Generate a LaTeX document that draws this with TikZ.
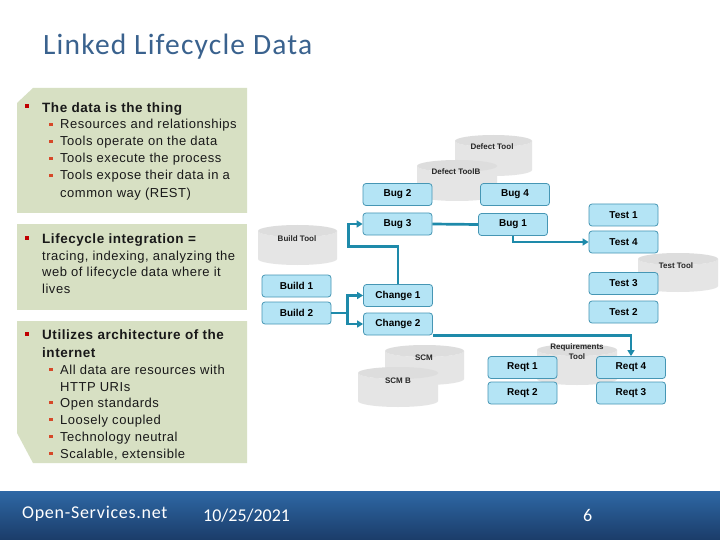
\documentclass[tikz,border=0pt]{standalone}
\usepackage{fontspec}
\setmainfont{Liberation Sans}
\newfontfamily\lsp[LetterSpace=4]{Liberation Sans}
\newfontfamily\calf{Carlito}
\newfontfamily\calsp[LetterSpace=4]{Carlito}
\usetikzlibrary{arrows.meta}
\definecolor{greenbox}{RGB}{215,224,195}
\definecolor{titleblue}{RGB}{58,98,142}
\definecolor{bullred}{RGB}{192,0,0}
\definecolor{subred}{RGB}{214,72,40}
\definecolor{boxfill}{RGB}{180,228,245}
\definecolor{boxline}{RGB}{70,150,180}
\definecolor{linkc}{RGB}{30,138,170}
\definecolor{footA}{RGB}{46,104,165}
\definecolor{footB}{RGB}{27,60,105}
\definecolor{txtc}{RGB}{25,25,25}
\newcommand\drawcyl[4]{%
  \pgfmathsetmacro\cxc{(#1+#2)/2}%
  \pgfmathsetmacro\crx{(#2-#1)/2}%
  \fill[cylbody] (#1,#3) -- (#1,#4) arc[start angle=180,end angle=0,x radius=\crx,y radius=6]
     -- (#2,#3) arc[start angle=0,end angle=180,x radius=\crx,y radius=6] -- cycle;
  \fill[cyltop] (\cxc,#3) ellipse[x radius=\crx,y radius=6];
}
\begin{document}
\begin{tikzpicture}[x=1pt,y=-1pt,
  hdr/.style={anchor=base west,inner sep=0,font=\lsp\bfseries\fontsize{13.5}{16}\selectfont,text=txtc},
  subt/.style={anchor=base west,inner sep=0,font=\lsp\fontsize{13}{16}\selectfont,text=txtc},
  bigbul/.style={rectangle,fill=bullred,minimum width=4.2,minimum height=4.2,inner sep=0,outer sep=0},
  smbul/.style={rectangle,fill=subred,minimum width=3.2,minimum height=3.2,inner sep=0,outer sep=0},
  item/.style={rectangle,rounded corners=3,draw=boxline,line width=0.8,fill=boxfill,
    minimum width=69,minimum height=22,inner sep=0,font=\bfseries\fontsize{10}{12}\selectfont},
  cyllab/.style={inner sep=0,font=\bfseries\fontsize{8}{9.5}\selectfont,text=black!85},
  cylbody/.style={fill=gray!20},
  cyltop/.style={fill=gray!27},
  link/.style={draw=linkc,line width=2.7},
  arr/.style={-{Triangle[length=6,width=7]}}
]
\useasboundingbox (0,0) rectangle (720,540);
\fill[white] (0,0) rectangle (720,540);

% title
\node[anchor=base west,inner sep=0,font=\calsp\fontsize{29.5}{32}\selectfont,text=titleblue] (title) at (43,54.5) {Linked Lifecycle Data};

% green boxes
\fill[greenbox] (17,103) -- (33,88) -- (247,88) -- (247,213) -- (17,213) -- cycle;
\fill[greenbox] (17,224) rectangle (247,310);
\fill[greenbox] (17,321) -- (247,321) -- (247,463) -- (33,463) -- (17,433) -- cycle;

% box 1 text
\node[bigbul] (b1) at (27,106) {};
\node[hdr] (h1) at (42,112.5) {The data is the thing};
\node[smbul] (s11) at (51,124.5) {};
\node[subt] (t11) at (60,129) {Resources and relationships};
\node[smbul] (s12) at (51,141.5) {};
\node[subt] (t12) at (60,146) {Tools operate on the data};
\node[smbul] (s13) at (51,158.5) {};
\node[subt] (t13) at (60,163) {Tools execute the process};
\node[smbul] (s14) at (51,175.5) {};
\node[subt] (t14) at (60,180) {Tools expose their data in a};
\node[subt] (t15) at (60,197) {common way (REST)};

% box 2 text
\node[bigbul] (b2) at (27,238) {};
\node[hdr] (h2) at (42,243.5) {Lifecycle integration =};
\node[subt] (t21) at (42,260) {tracing, indexing, analyzing the};
\node[subt] (t22) at (42,276.5) {web of lifecycle data where it};
\node[subt] (t23) at (42,293) {lives};

% box 3 text
\node[bigbul] (b3) at (27,334) {};
\node[hdr] (h3) at (42,339.5) {Utilizes architecture of the};
\node[hdr] (h3b) at (42,357) {internet};
\node[smbul] (s31) at (51,369.5) {};
\node[subt] (t31) at (60,374) {All data are resources with};
\node[subt] (t32) at (60,391) {HTTP URIs};
\node[smbul] (s33) at (51,402.5) {};
\node[subt] (t33) at (60,407) {Open standards};
\node[smbul] (s34) at (51,419.5) {};
\node[subt] (t34) at (60,424) {Loosely coupled};
\node[smbul] (s35) at (51,436.5) {};
\node[subt] (t35) at (60,441) {Technology neutral};
\node[smbul] (s36) at (51,453.5) {};
\node[subt] (t36) at (60,458) {Scalable, extensible};

% cylinders
\drawcyl{455}{532}{141}{170}
\node[cyllab] (ldt) at (492,147) {Defect Tool};
\drawcyl{417}{497}{166}{195}
\node[cyllab] (ldtb) at (456,172) {Defect ToolB};
\drawcyl{258}{337}{231}{259}
\node[cyllab] (lbt) at (297,239) {Build Tool};
\drawcyl{638}{718}{259}{286}
\node[cyllab] (ltt) at (676,266) {Test Tool};
\drawcyl{385}{464}{351}{379}
\node[cyllab] (lscm) at (424,358) {SCM};
\drawcyl{358}{438}{373}{401}
\node[cyllab] (lscmb) at (398,381) {SCM B};
\drawcyl{537}{617}{350}{379}
\node[cyllab,align=center,font=\bfseries\fontsize{8}{10}\selectfont] (lrt) at (577,352) {Requirements\\Tool};

% resource boxes
\node[item] (bug2) at (397.5,194.5) {Bug 2};
\node[item] (bug4) at (515,194.5) {Bug 4};
\node[item] (bug3) at (397.5,224) {Bug 3};
\node[item] (bug1) at (513,224.5) {Bug 1};
\node[item] (test1) at (623.5,215) {Test 1};
\node[item] (test4) at (623.5,242) {Test 4};
\node[item] (test3) at (623.5,283.5) {Test 3};
\node[item] (test2) at (623.5,312) {Test 2};
\node[item] (build1) at (296.5,286) {Build 1};
\node[item] (build2) at (296.5,313) {Build 2};
\node[item] (chg1) at (398,295.5) {Change 1};
\node[item] (chg2) at (398,324) {Change 2};
\node[item] (reqt1) at (522.5,367.5) {Reqt 1};
\node[item] (reqt2) at (522.5,393) {Reqt 2};
\node[item] (reqt4) at (631,367.5) {Reqt 4};
\node[item] (reqt3) at (631,393) {Reqt 3};

% connectors
\coordinate (jb) at ([xshift=16]build2.east);
\draw[link] (build2.east) -- (jb);
\draw[link,arr] (jb) |- (chg1.west);
\draw[link,arr] (jb) |- (chg2.west);
\draw[link,arr] (chg1.north) -- ++(0,-37.5) -| ([xshift=-14]bug3.west) -- (bug3.west);
\draw[link] (bug3.east) -- (bug1.west);
\draw[link,arr] (bug1.south) |- (test4.west);
\draw[link,arr] (chg2.south east) -| (reqt4.north);

% footer
\shade[top color=footA,bottom color=footB] (0,491) rectangle (720,540);
\node[anchor=base west,inner sep=0,font=\calsp\fontsize{18}{20}\selectfont,text=white] (ft1) at (22,518.5) {Open-Services.net};
\node[anchor=base west,inner sep=0,font=\calf\fontsize{18}{20}\selectfont,text=white] (ft2) at (203,521.5) {10/25/2021};
\node[anchor=base west,inner sep=0,font=\calf\fontsize{18}{20}\selectfont,text=white] (ft3) at (583,521.5) {6};
\end{tikzpicture}
\end{document}
